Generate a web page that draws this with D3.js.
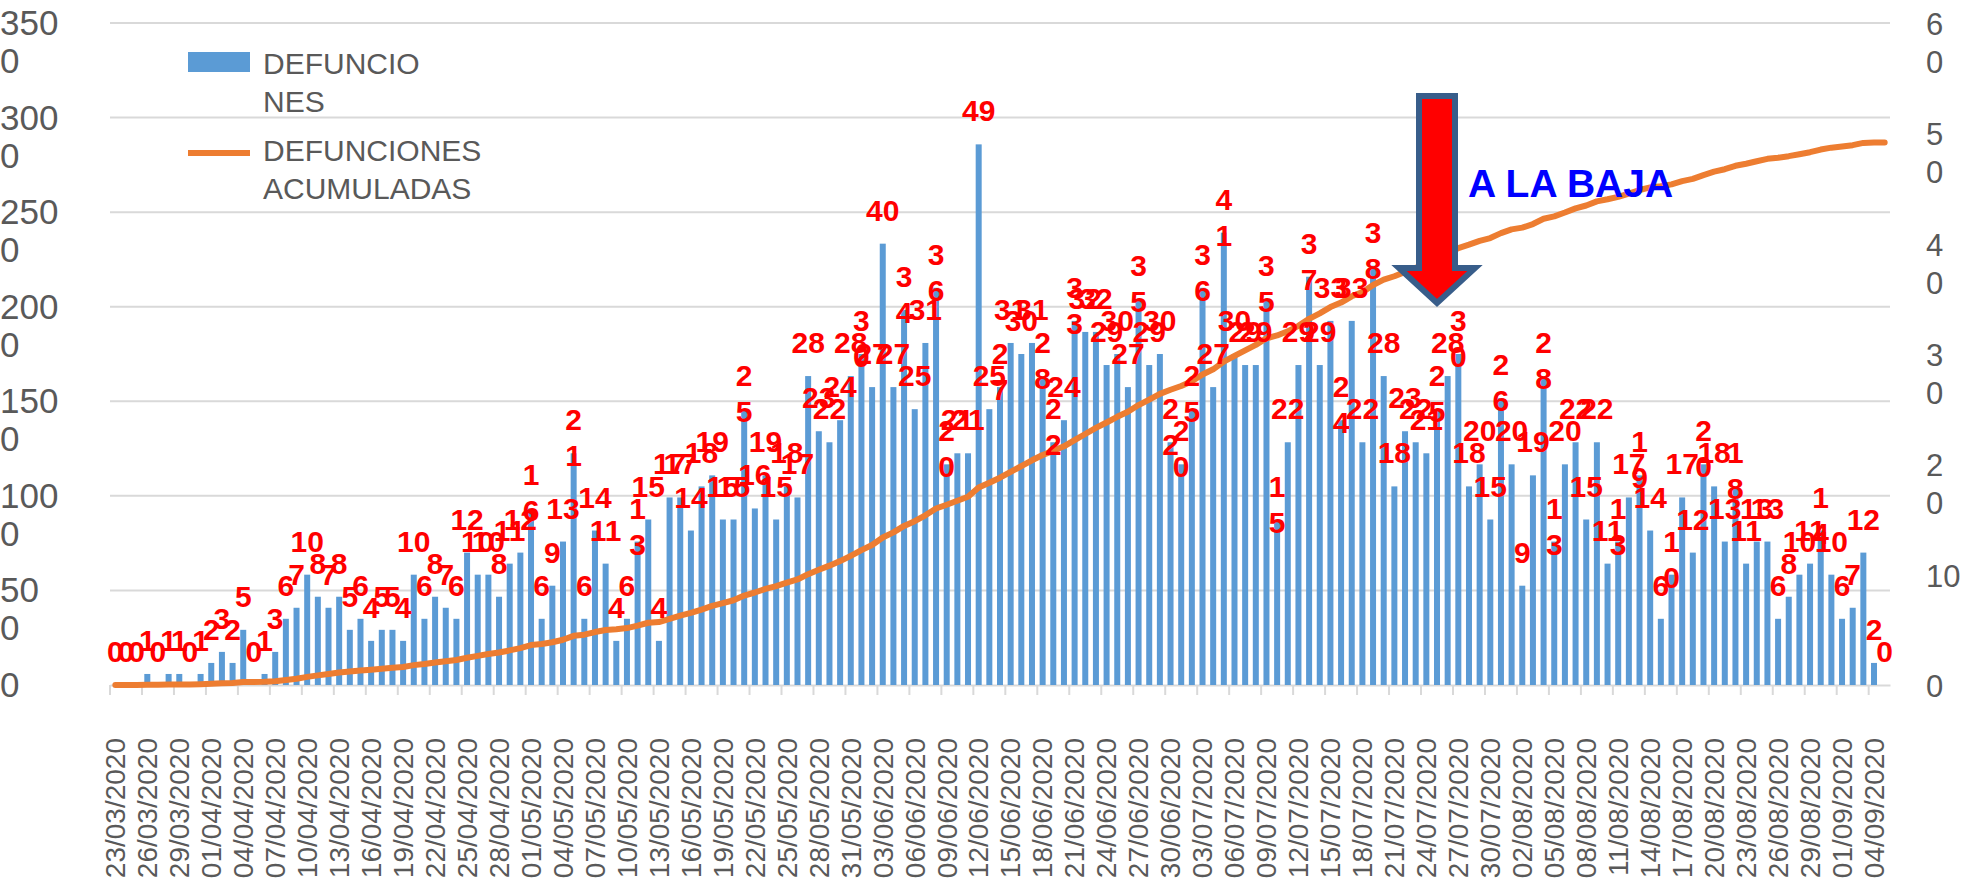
<!DOCTYPE html>
<html><head><meta charset="utf-8">
<script src="https://cdn.jsdelivr.net/npm/d3@7"></script>
<style>
html,body{margin:0;padding:0;background:#fff;}
svg{display:block;font-family:"Liberation Sans",Arial,sans-serif;}
</style></head><body>
<svg id="chart" width="1962" height="880"></svg>
<script>
// ---------- DATA ----------
const startDate = "23/03/2020";
const dayCount = 167;
const deaths = [
0,0,0,1,0,1,1,0,1,2,
3,2,5,0,1,3,6,7,10,8,
7,8,5,6,4,5,5,4,10,6,
8,7,6,12,10,10,8,11,12,16,
6,9,13,21,6,14,11,4,6,13,
15,4,17,17,14,18,19,15,15,25,
16,19,15,18,17,28,23,22,24,28,
30,27,40,27,34,25,31,36,20,21,
21,49,25,27,31,30,31,28,22,24,
33,32,32,29,30,27,35,29,30,22,
20,25,36,27,41,30,29,29,35,15,
22,29,37,29,33,24,33,22,38,28,
18,23,22,21,25,28,30,18,20,15,
26,20,9,19,28,13,20,22,15,22,
11,13,17,19,14,6,10,17,12,20,
18,13,18,11,13,13,6,8,10,11,
14,10,6,7,12,2,0
];
const leftTicks = [0,500,1000,1500,2000,2500,3000,3500];
const leftTickLabels = ["0","50\n0","100\n0","150\n0","200\n0","250\n0","300\n0","350\n0"];
const rightTicks = [0,10,20,30,40,50,60];
const rightTickLabels = ["0","10","2\n0","3\n0","4\n0","5\n0","6\n0"];
const legendLabels = ["DEFUNCIO\nNES","DEFUNCIONES\nACUMULADAS"];
const annotationText = "A LA BAJA";
const wrappedLabelIdx = [39,43,49,59,70,74,77,78,83,87,88,90,96,99,100,101,102,104,108,109,112,115,118,124,126,130,134,135,141,143,146,149,152,160];

// ---------- DERIVED ----------
const parse = d3.timeParse("%d/%m/%Y");
const fmt = d3.timeFormat("%d/%m/%Y");
const d0 = parse(startDate);
const dates = d3.timeDay.range(d0, d3.timeDay.offset(d0, dayCount)).map(fmt);
const cumulative = Array.from(d3.cumsum(deaths));
const idx = d3.range(deaths.length);

// ---------- LAYOUT ----------
const L = 110, R = 1890, T = 23, B = 685;
const svg = d3.select("#chart");
const x = d3.scaleBand().domain(idx).range([L, R]).padding(0);
const bw = x.bandwidth();
const cx = i => x(i) + bw / 2;
const yR = d3.scaleLinear().domain([0, 60]).range([B, T]);
const yL = d3.scaleLinear().domain([0, 3500]).range([B, T]);
const grey = "#595959";

// gridlines
svg.append("g").selectAll("line").data(leftTicks.filter(t => t > 0)).join("line")
  .attr("x1", L).attr("x2", R).attr("y1", d => yL(d)).attr("y2", d => yL(d))
  .attr("stroke", "#D9D9D9").attr("stroke-width", 2);

// x axis
const xAxis = d3.axisBottom(x)
  .tickValues(idx.filter(i => i % 3 === 0))
  .tickFormat(i => dates[i])
  .tickSizeInner(0).tickSizeOuter(0);
const gx = svg.append("g").attr("transform", `translate(0,${B})`).call(xAxis);
gx.select(".domain").attr("stroke", "#D9D9D9").attr("stroke-width", 2);
gx.selectAll(".tick text")
  .attr("transform", "rotate(-90)")
  .attr("text-anchor", "end")
  .attr("x", -53).attr("y", 0).attr("dy", "0.35em")
  .attr("fill", grey)
  .style("font-size", "28px").style("font-family", "Liberation Sans, Arial, sans-serif");
// boundary tick marks
svg.append("g").selectAll("line").data(idx.filter(i => i % 3 === 0)).join("line")
  .attr("x1", d => x(d)).attr("x2", d => x(d)).attr("y1", B).attr("y2", B + 10)
  .attr("stroke", "#D9D9D9").attr("stroke-width", 2);

// left axis labels (wrapped)
const gl = svg.append("g").attr("fill", grey).style("font-size", "35px");
leftTicks.forEach((t, k) => {
  const lines = leftTickLabels[k].split("\n");
  const tx = gl.append("text").attr("x", 0).attr("y", yL(t) + 12);
  lines.forEach((s, j) => tx.append("tspan").attr("x", 0).attr("dy", j ? 38 : 0).text(s));
});
// right axis labels (wrapped)
const gr = svg.append("g").attr("fill", grey).style("font-size", "31px");
rightTicks.forEach((t, k) => {
  const lines = rightTickLabels[k].split("\n");
  const tx = gr.append("text").attr("x", 1926).attr("y", yR(t) + 12);
  lines.forEach((s, j) => tx.append("tspan").attr("x", 1926).attr("dy", j ? 38 : 0).text(s));
});

// bars
const barW = 6;
svg.append("g").selectAll("rect").data(idx).join("rect")
  .attr("x", i => cx(i) - barW / 2).attr("width", barW)
  .attr("y", i => yR(deaths[i])).attr("height", i => B - yR(deaths[i]))
  .attr("fill", "#5B9BD5");

// cumulative line
svg.append("path").datum(idx)
  .attr("d", d3.line().x(i => cx(i)).y(i => yL(cumulative[i])))
  .attr("fill", "none").attr("stroke", "#ED7D31").attr("stroke-width", 6)
  .attr("stroke-linejoin", "round").attr("stroke-linecap", "round");

// data labels
const gd = svg.append("g").attr("fill", "#FF0000").attr("font-weight", "bold")
  .style("font-size", "30px").attr("text-anchor", "middle");
idx.forEach(i => {
  const s = String(deaths[i]);
  const lines = (wrappedLabelIdx.includes(i) && s.length > 1) ? [s[0], s.slice(1)] : [s];
  const tx = gd.append("text").attr("x", cx(i)).attr("y", yR(deaths[i]) - 23);
  lines.forEach((l, j) => tx.append("tspan").attr("x", cx(i)).attr("dy", j ? 36 : 0).text(l));
});

// arrow annotation
const arrow = d3.path();
arrow.moveTo(1419, 96); arrow.lineTo(1455, 96); arrow.lineTo(1455, 268);
arrow.lineTo(1475, 268); arrow.lineTo(1437, 303); arrow.lineTo(1399, 268);
arrow.lineTo(1419, 268); arrow.closePath();
svg.append("path").attr("d", arrow.toString())
  .attr("fill", "#FF0000").attr("stroke", "#385D8A").attr("stroke-width", 6)
  .attr("stroke-linejoin", "miter");
svg.append("text").attr("x", 1468).attr("y", 197).attr("fill", "#0000FF")
  .attr("font-weight", "bold").style("font-size", "39px").text(annotationText);

// legend
const lg = svg.append("g").attr("fill", grey).style("font-size", "30px");
lg.append("rect").attr("x", 188).attr("y", 52).attr("width", 62).attr("height", 20).attr("fill", "#5B9BD5");
lg.append("line").attr("x1", 188).attr("x2", 250).attr("y1", 153).attr("y2", 153)
  .attr("stroke", "#ED7D31").attr("stroke-width", 6);
[[63, legendLabels[0]], [150, legendLabels[1]]].forEach(([cy, lab]) => {
  const tx = lg.append("text").attr("x", 263).attr("y", cy + 11);
  lab.split("\n").forEach((s, j) => tx.append("tspan").attr("x", 263).attr("dy", j ? 38 : 0).text(s));
});
</script>
</body></html>
